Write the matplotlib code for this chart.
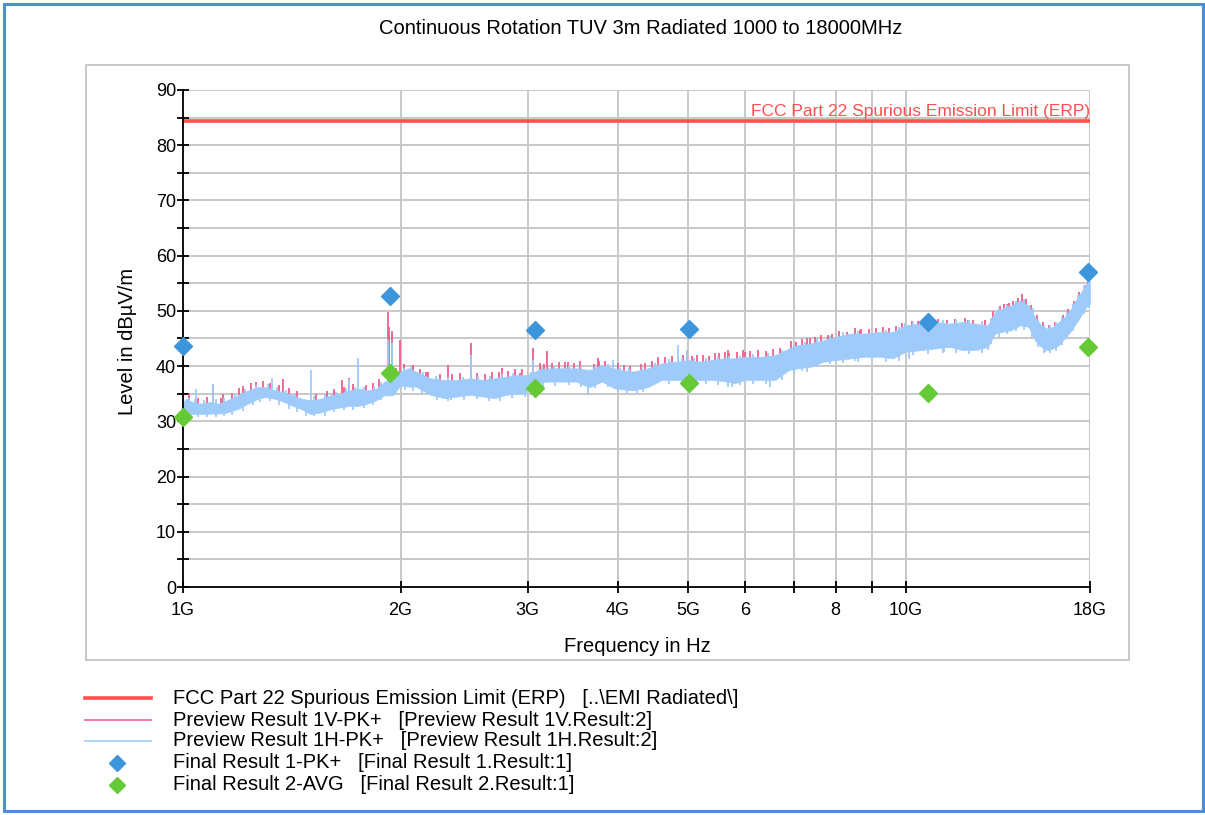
import numpy as np
import matplotlib
matplotlib.use("Agg")
import matplotlib.pyplot as plt
from matplotlib.lines import Line2D
from matplotlib.patches import Rectangle

plt.rcParams['font.family'] = ['Liberation Sans', 'DejaVu Sans']

W, H = 1205, 815

# ---------------- data ----------------
title = "Continuous Rotation TUV 3m Radiated 1000 to 18000MHz"
limit_level = 84.4
limit_name = "FCC Part 22 Spurious Emission Limit (ERP)"

# Preview Result 1H-PK+ : band envelope (GHz, dBuV/m)
freq = [1.00, 1.01, 1.03, 1.06, 1.09, 1.12, 1.15, 1.19, 1.23, 1.27,
        1.30, 1.34, 1.38, 1.42, 1.46, 1.50, 1.55, 1.60, 1.65, 1.70,
        1.75, 1.80, 1.85, 1.90, 1.95, 2.00, 2.05, 2.10, 2.20, 2.30,
        2.40, 2.50, 2.60, 2.70, 2.80, 2.90, 3.00, 3.10, 3.20, 3.35,
        3.50, 3.65, 3.80, 3.95, 4.05, 4.20, 4.40, 4.60, 4.80, 5.00,
        5.20, 5.40, 5.60, 5.80, 6.00, 6.30, 6.60, 6.90, 7.10, 7.40,
        7.70, 8.00, 8.40, 8.80, 9.20, 9.60, 10.0, 10.5, 11.0, 11.5,
        12.0, 12.5, 13.0, 13.3, 13.6, 14.0, 14.4, 14.8, 15.1, 15.4,
        15.7, 16.0, 16.3, 16.6, 16.9, 17.2, 17.5, 17.8, 18.0]

h_hi = [33.5, 34.1, 33.5, 33.2, 33.5, 33.2, 33.8, 34.7, 35.6, 36.2,
        36.2, 35.6, 35.3, 34.7, 34.1, 33.8, 34.1, 34.7, 35.0, 35.6,
        35.9, 35.6, 35.9, 37.2, 37.8, 39.0, 39.6, 39.0, 37.8, 37.5,
        37.5, 37.8, 37.5, 37.8, 38.1, 38.4, 38.4, 39.3, 39.6, 39.6,
        39.6, 39.3, 40.2, 39.6, 39.3, 39.0, 39.6, 40.5, 40.8, 41.1,
        40.8, 41.1, 41.4, 41.4, 41.7, 41.7, 42.0, 43.2, 43.8, 44.1,
        44.7, 45.3, 45.9, 45.9, 46.2, 46.2, 47.4, 47.7, 48.0, 47.7,
        48.0, 47.7, 47.4, 49.8, 50.4, 51.0, 51.9, 51.0, 48.9, 47.4,
        46.8, 47.1, 48.0, 48.9, 50.1, 51.9, 53.4, 54.9, 55.5]

h_lo = [31.3, 31.0, 31.3, 31.3, 31.4, 31.4, 31.6, 32.2, 33.2, 34.1,
        34.4, 34.1, 33.5, 32.8, 32.2, 31.3, 31.6, 32.2, 32.5, 32.8,
        32.8, 33.2, 33.8, 34.7, 34.7, 36.5, 36.3, 36.3, 34.8, 34.2,
        34.5, 34.8, 34.5, 34.2, 34.8, 35.0, 35.3, 36.9, 37.2, 37.2,
        37.2, 36.2, 37.2, 36.0, 35.8, 35.6, 36.2, 37.5, 37.5, 37.5,
        37.5, 37.5, 37.3, 36.9, 37.5, 37.5, 37.5, 39.3, 39.6, 39.9,
        40.8, 41.1, 41.4, 41.7, 41.7, 41.4, 42.6, 42.9, 43.2, 43.5,
        42.9, 42.9, 43.5, 45.9, 46.2, 46.5, 47.4, 47.1, 44.7, 43.5,
        42.9, 43.2, 43.8, 45.0, 46.2, 47.7, 49.2, 50.7, 51.3]

# Preview Result 1H-PK+ : noise peaks above the band
h_up_f = [1.02, 1.04, 1.07, 1.11, 1.14, 1.18, 1.22, 1.26, 1.31, 1.35,
          1.39, 1.43, 1.52, 1.57, 1.63, 1.68, 1.73, 1.78, 1.84, 1.88,
          2.02, 2.07, 2.15, 2.24, 2.33, 2.44, 2.56, 2.66, 2.76, 2.86,
          3.03, 3.14, 3.26, 3.42, 3.56, 3.72, 3.88, 4.02, 4.14, 4.32,
          4.50, 4.70, 4.90, 5.10, 5.30, 5.50, 5.70, 5.90, 6.15, 6.45,
          6.75, 7.00, 7.25, 7.55, 7.85, 8.20, 8.60, 9.00, 9.40, 9.80,
          10.25, 10.75, 11.25, 11.75, 12.25, 12.75, 13.15, 13.45, 13.8, 14.2,
          14.6, 15.0, 15.25, 15.55, 15.85, 16.15, 16.45, 16.75, 17.05, 17.35,
          17.65, 17.95,
          1.000, 1.041, 1.101, 1.328, 1.502, 1.697, 1.745, 1.924, 1.945, 2.502,
          3.054, 3.94, 4.85, 4.99, 9.97]
h_up_top = [34.2, 34.0, 33.8, 34.0, 34.2, 34.8, 35.9, 36.6, 36.7, 36.2,
            35.6, 35.0, 34.6, 34.9, 35.3, 36.0, 36.2, 36.3, 36.4, 37.2,
            39.7, 39.8, 38.9, 38.2, 38.0, 38.1, 38.2, 38.2, 38.5, 38.8,
            38.9, 39.8, 40.1, 40.1, 40.0, 40.1, 40.4, 39.7, 39.6, 39.9,
            40.6, 41.2, 41.5, 41.4, 41.5, 41.8, 41.9, 41.9, 42.2, 42.3,
            42.9, 43.9, 44.4, 44.9, 45.4, 46.1, 46.4, 46.5, 46.6, 47.0,
            47.9, 48.2, 48.3, 48.4, 48.3, 48.1, 48.8, 50.5, 51.0, 51.8,
            52.2, 50.5, 48.4, 47.4, 47.4, 48.0, 48.9, 49.8, 51.3, 52.9,
            54.6, 55.9,
            38.4, 35.9, 36.8, 37.8, 39.3, 37.6, 41.5, 44.8, 44.2, 42.0,
            41.1, 41.1, 43.8, 42.9, 47.8]

# Preview Result 1H-PK+ : noise minima below the band
h_dn_f = [1.02, 1.05, 1.08, 1.11, 1.14, 1.17, 1.25, 1.28, 1.32, 1.36,
          1.40, 1.44, 1.52, 1.57, 1.62, 1.67, 1.72, 1.78, 1.83, 1.88,
          1.97, 2.03, 2.08, 2.14, 2.25, 2.33, 2.45, 2.55, 2.65, 2.75,
          2.85, 3.05, 3.15, 3.27, 3.42, 3.56, 3.72, 3.88, 4.00, 4.12,
          4.33, 4.50, 4.70, 4.90, 5.10, 5.30, 5.50, 5.68, 5.90, 6.15,
          6.40, 6.75, 7.00, 7.20, 7.55, 7.85, 8.20, 8.50, 9.00, 9.40,
          9.80, 10.25, 10.75, 11.25, 11.75, 12.25, 12.75, 13.15, 13.45, 13.8,
          14.2, 14.6, 14.95, 15.25, 15.55, 15.85, 16.15, 16.45, 16.75, 17.05,
          17.35, 17.65, 17.95,
          1.21, 1.48, 2.35, 2.97, 3.63, 4.25, 5.75, 6.5, 7.3, 8.6,
          10.1, 11.3, 13.0, 15.6]
h_dn_bot = [30.6, 30.7, 30.8, 30.7, 30.9, 31.2, 33.0, 33.5, 33.6, 33.0,
            32.3, 31.6, 30.9, 31.0, 31.6, 32.0, 32.0, 32.4, 33.0, 33.8,
            35.2, 35.6, 35.5, 35.0, 33.9, 33.6, 33.8, 34.0, 33.7, 33.6,
            34.2, 35.2, 36.1, 36.4, 36.5, 36.3, 36.0, 36.2, 35.2, 35.0,
            35.4, 36.7, 36.8, 36.7, 36.8, 36.7, 36.6, 36.2, 36.6, 36.8,
            36.7, 37.4, 38.8, 39.1, 39.8, 40.3, 40.5, 40.9, 40.9, 40.8,
            41.0, 42.1, 42.2, 42.4, 42.3, 42.2, 42.4, 44.0, 45.3, 45.8,
            46.4, 46.5, 45.2, 43.4, 42.4, 42.3, 42.8, 43.8, 45.0, 46.3,
            47.9, 49.4, 50.5,
            31.8, 31.0, 33.8, 34.4, 34.7, 34.9, 36.3, 36.2, 39.0, 40.8,
            41.2, 42.5, 42.9, 42.5]

# Preview Result 1V-PK+ : peaks showing above the H trace
v_pk_f = [1.000, 1.019, 1.101, 1.136, 1.195, 1.375, 1.658, 1.697, 1.831, 1.924,
          1.930, 1.945, 1.995, 2.166, 2.329, 2.502, 2.763, 2.929, 3.054, 3.193,
          3.38, 3.755, 4.99, 5.67, 6.0, 6.45, 7.37, 7.8, 8.69, 10.6,
          12.2, 13.8, 14.5, 14.66,
          1.02, 1.05, 1.08, 1.13, 1.17, 1.21, 1.24, 1.26, 1.29, 1.32,
          1.36, 1.40, 1.44, 1.53, 1.58, 1.62, 1.67, 1.72, 1.79, 1.83,
          1.87, 1.97, 2.02, 2.08, 2.13, 2.18, 2.27, 2.36, 2.42, 2.55,
          2.62, 2.68, 2.74, 2.82, 2.88, 2.95, 3.12, 3.16, 3.24, 3.31,
          3.41, 3.48, 3.54, 3.70, 3.76, 3.84, 4.00, 4.08, 4.16, 4.30,
          4.36, 4.46, 4.55, 4.65, 4.75, 4.92, 5.06, 5.15, 5.25, 5.35,
          5.45, 5.52, 5.62, 5.70, 5.85, 5.95, 6.1, 6.25, 6.4, 6.55,
          6.7, 6.95, 7.05, 7.2, 7.3, 7.5, 7.65, 7.9, 8.1, 8.3,
          8.5, 8.65, 8.9, 9.1, 9.3, 9.5, 9.7, 9.9, 10.2, 10.4,
          10.8, 11.1, 11.4, 11.7, 12.1, 12.4, 12.9, 13.2, 13.5, 13.7,
          13.9, 14.1, 14.3, 14.7, 14.9, 15.2, 15.5, 15.8, 16.1, 16.5,
          16.8, 17.1, 17.4, 17.7, 17.9]
v_pk_top = [45.9, 35.0, 36.8, 34.9, 36.0, 37.6, 37.5, 37.8, 36.4, 49.8,
            47.0, 46.4, 44.8, 39.0, 40.2, 44.1, 39.6, 38.7, 43.2, 42.7,
            40.8, 41.4, 42.9, 42.9, 42.5, 42.4, 45.1, 45.6, 46.8, 47.4,
            48.3, 51.3, 53.1, 51.6,
            34.6, 34.3, 34.4, 34.2, 35.2, 36.4, 36.9, 37.2, 37.3, 36.9,
            36.5, 36.0, 35.5, 35.0, 35.5, 35.9, 36.2, 36.7, 36.6, 36.9,
            37.6, 39.6, 40.4, 40.2, 39.4, 39.0, 38.6, 38.6, 38.8, 38.7,
            38.6, 38.9, 39.0, 39.2, 39.5, 39.5, 40.6, 40.4, 40.6, 40.8,
            40.7, 40.5, 40.9, 40.4, 41.0, 40.9, 40.6, 40.2, 40.0, 40.3,
            40.6, 41.0, 41.6, 41.6, 41.9, 42.0, 41.8, 42.0, 42.1, 41.9,
            42.4, 42.3, 42.6, 42.3, 42.6, 42.9, 42.8, 43.0, 42.7, 43.1,
            43.2, 44.5, 44.4, 44.9, 45.0, 45.2, 45.6, 45.9, 46.3, 46.2,
            46.9, 46.5, 46.8, 46.9, 47.1, 46.9, 47.2, 47.8, 48.2, 48.1,
            48.5, 48.6, 48.4, 48.5, 48.7, 48.4, 48.4, 49.9, 50.8, 51.2,
            51.4, 51.8, 52.4, 52.2, 51.0, 49.2, 47.9, 47.5, 48.0, 49.3,
            50.4, 51.8, 53.4, 54.7, 56.0]

# Final results
pk_f = [1.00, 1.934, 3.07, 5.01, 10.74, 17.88]
pk_level = [43.6, 52.7, 46.5, 46.7, 48.0, 57.0]
avg_f = [1.00, 1.934, 3.07, 5.01, 10.74, 17.88]
avg_level = [30.8, 38.75, 36.0, 36.9, 35.1, 43.5]

xtick_vals = [1, 2, 3, 4, 5, 6, 7, 8, 9, 10, 18]
xtick_labels = ["1G", "2G", "3G", "4G", "5G", "6", "", "8", "", "10G", "18G"]
ytick_major = [0, 10, 20, 30, 40, 50, 60, 70, 80, 90]
ytick_minor = [5, 15, 25, 35, 45, 55, 65, 75, 85]

legend_labels = [
    "FCC Part 22 Spurious Emission Limit (ERP)   [..\\EMI Radiated\\]",
    "Preview Result 1V-PK+   [Preview Result 1V.Result:2]",
    "Preview Result 1H-PK+   [Preview Result 1H.Result:2]",
    "Final Result 1-PK+   [Final Result 1.Result:1]",
    "Final Result 2-AVG   [Final Result 2.Result:1]",
]

# ---------------- colours ----------------
c_limit = "#ff4f4f"
c_v = "#f0608c"
c_h = "#9fcbfa"
c_pk = "#3d95db"
c_avg = "#66c936"
c_grid = "#c8c8c8"
FS = 14.5


def fx(px):
    return px / W


def fy(py):
    return 1 - py / H


fig = plt.figure(figsize=(W / 100, H / 100), dpi=100)

# outer blue frame and inner gray box
fig.add_artist(Rectangle((fx(4), fy(811)), fx(1199), 807 / H, fill=False,
                         edgecolor="#4a8fd8", linewidth=2.2, transform=fig.transFigure))
fig.add_artist(Rectangle((fx(86), fy(660)), fx(1043), 595 / H, fill=False,
                         edgecolor="#c4c4c4", linewidth=1.3, transform=fig.transFigure))

fig.text(fx(641), fy(29), title, ha="center", va="center", fontsize=FS)

ax = fig.add_axes([fx(183), fy(587), fx(1090 - 183), (587 - 90) / H])
ax.set_xscale("log")
ax.set_xlim(1.0, 18.0)
ax.set_ylim(0, 90)

ax.set_yticks(ytick_major)
ax.set_yticks(ytick_minor, minor=True)
ax.set_xticks(xtick_vals)
ax.set_xticklabels(xtick_labels)
ax.xaxis.set_minor_locator(matplotlib.ticker.NullLocator())

ax.grid(True, which="both", axis="y", color=c_grid, linewidth=1.4)
ax.grid(True, which="major", axis="x", color=c_grid, linewidth=1.4)
ax.set_axisbelow(True)

for s in ["top", "right"]:
    ax.spines[s].set_visible(False)
for s in ["left", "bottom"]:
    ax.spines[s].set_linewidth(1.3)
    ax.spines[s].set_zorder(5)

ax.tick_params(axis="y", which="both", direction="inout", length=8, width=1.3,
               labelsize=13, pad=1)
ax.tick_params(axis="x", which="major", direction="inout", length=8, width=1.3,
               labelsize=13, pad=7)

ax.set_ylabel("Level in dBµV/m", fontsize=FS)
ax.yaxis.label.set_va("center")
ax.yaxis.set_label_coords((128 - 183) / 907, (587 - 341) / 497)
ax.set_xlabel("Frequency in Hz", fontsize=FS)
ax.xaxis.label.set_va("center")
ax.xaxis.set_label_coords((637 - 183) / 907, -(647 - 587) / 497)

# traces
lf = np.log10(freq)
lw_t = 1.3
# V trace peaks (underneath the H trace)
vb = np.interp(np.log10(v_pk_f), lf, h_hi) - 1.0
ax.vlines(v_pk_f, vb, v_pk_top, color=c_v, linewidth=lw_t, zorder=2)

# H trace band with its noise peaks and minima
ax.fill_between(freq, h_lo, h_hi, color=c_h, linewidth=0.5, edgecolor=c_h, zorder=3)
hb = np.interp(np.log10(h_up_f), lf, h_hi) - 1.0
ax.vlines(h_up_f, hb, h_up_top, color=c_h, linewidth=lw_t, zorder=3)
db = np.interp(np.log10(h_dn_f), lf, h_lo) + 1.0
ax.vlines(h_dn_f, h_dn_bot, db, color=c_h, linewidth=lw_t, zorder=3)

# limit
ax.plot([1.0, 18.0], [limit_level, limit_level], color=c_limit, linewidth=2.6, zorder=4)
ax.text(18.0, limit_level + 0.35, limit_name, color=c_limit, ha="right", va="bottom",
        fontsize=12.5)

# final results
ax.plot(pk_f, pk_level, linestyle="none", marker="D", markersize=9.5, color=c_pk,
        zorder=6, clip_on=False)
ax.plot(avg_f, avg_level, linestyle="none", marker="D", markersize=9.5, color=c_avg,
        zorder=6, clip_on=False)

# legend (manual)
rows = [698, 720, 741, 763, 785]
fig.add_artist(Line2D([fx(85), fx(151)], [fy(rows[0])] * 2, color=c_limit, linewidth=2.6))
fig.add_artist(Line2D([fx(85), fx(151)], [fy(rows[1])] * 2, color=c_v, linewidth=1.2))
fig.add_artist(Line2D([fx(85), fx(151)], [fy(rows[2])] * 2, color=c_h, linewidth=1.2))
fig.add_artist(Line2D([fx(117)], [fy(rows[3])], marker="D", markersize=8.5, color=c_pk,
                      linestyle="none"))
fig.add_artist(Line2D([fx(117)], [fy(rows[4])], marker="D", markersize=8.5, color=c_avg,
                      linestyle="none"))
for r, lab in zip(rows, legend_labels):
    fig.text(fx(173), fy(r), lab, ha="left", va="center", fontsize=FS)

fig.savefig("out.png", dpi=100)
